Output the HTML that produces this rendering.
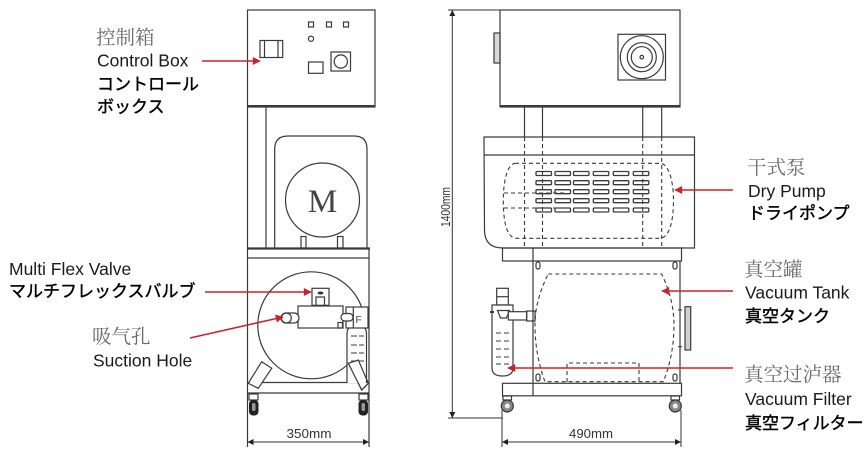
<!DOCTYPE html>
<html><head><meta charset="utf-8"><style>
html,body{margin:0;padding:0;background:#fff;}
svg{display:block;}
.en{font-family:"Liberation Sans",sans-serif;font-size:17.5px;fill:#1a1a1a;}
.jp{font-family:"Liberation Sans","Noto Sans CJK JP",sans-serif;font-size:17px;fill:#000;font-weight:normal;stroke:#000;stroke-width:0.4;}
.cn{font-family:"Liberation Serif","Noto Serif CJK SC",serif;font-size:19.5px;fill:#6a6a6a;}
.dim{font-family:"Liberation Sans",sans-serif;font-size:13px;fill:#333;}
</style></head><body>
<svg width="868" height="457" viewBox="0 0 868 457" xmlns="http://www.w3.org/2000/svg">
<defs>
<marker id="ra" viewBox="0 0 10 10" refX="9" refY="5" markerWidth="9" markerHeight="8" orient="auto" markerUnits="userSpaceOnUse"><path d="M0,0 L10,5 L0,10 z" fill="#c8242c"/></marker>
<marker id="ba" viewBox="0 0 10 10" refX="10" refY="5" markerWidth="10" markerHeight="6" orient="auto-start-reverse" markerUnits="userSpaceOnUse"><path d="M0,0 L10,5 L0,10 z" fill="#222"/></marker>
</defs>

<!-- ============ LEFT MACHINE ============ -->
<g fill="none" stroke="#3a3a3a" stroke-width="1.2">
  <rect x="247.5" y="10" width="127.5" height="96.5"/>
  <line x1="247" y1="106.3" x2="375.5" y2="106.3" stroke-width="2.6"/>
  <rect x="308.5" y="22" width="5" height="5"/>
  <rect x="326.5" y="22" width="5" height="5"/>
  <rect x="343.5" y="22" width="5" height="5"/>
  <circle cx="311" cy="38.7" r="2.6"/>
  <rect x="260" y="40.5" width="22.7" height="17"/>
  <line x1="264.5" y1="40.5" x2="264.5" y2="57.5"/>
  <line x1="278" y1="40.5" x2="278" y2="57.5"/>
  <rect x="308.5" y="62" width="14.5" height="11.3"/>
  <rect x="331" y="52" width="19.5" height="19"/>
  <circle cx="340.8" cy="61.5" r="6.6"/>

  <line x1="247.5" y1="107" x2="247.5" y2="447"/>
  <line x1="266" y1="107" x2="266" y2="248"/>
  <path d="M274.7,248 V149 Q274.7,136 288,136 H354 Q367,136 367,149 V248"/>
  <circle cx="322.5" cy="200" r="37"/>
  <rect x="301" y="236.5" width="5" height="11.5"/>
  <rect x="337.5" y="236.5" width="5.5" height="11.5"/>
  <line x1="247" y1="248.5" x2="370" y2="248.5" stroke-width="2.2"/>
  <line x1="247.5" y1="258" x2="369" y2="258"/>
  <line x1="369" y1="248" x2="369" y2="447"/>

  <line x1="247.5" y1="382.5" x2="369" y2="382.5"/>
  <line x1="247.5" y1="393" x2="369" y2="393"/>
  <circle cx="311.3" cy="325.3" r="53.5"/>
  <polygon points="261.7,361.7 271.7,368.3 258.3,388.3 248.3,383.3" fill="#fff"/>
  <polygon points="348.3,363.3 358.3,360 368.3,383.3 361.7,390" fill="#fff"/>

  <rect x="312" y="288.3" width="17" height="17" fill="#fff"/>
  <path d="M316,305.3 V297 H324.5 V305.3"/>
  <rect x="298" y="306" width="45" height="22" fill="#fff"/>
  <rect x="338" y="322.5" width="4.5" height="5.5"/>
  <rect x="281" y="313" width="18" height="10" rx="5" fill="#fff"/>
  <circle cx="286.3" cy="318" r="5"/>

  <path d="M347,383 V334 Q347,325 357,325 Q366.5,325 366.5,334 V383" fill="#fff"/>
  <rect x="346" y="307" width="22" height="21" fill="#fff"/>
  <line x1="353.3" y1="307" x2="353.3" y2="328"/>
  <rect x="341" y="313.5" width="12" height="7.5" rx="3.7" fill="#fff"/>
  <g stroke-width="1">
    <line x1="351" y1="336" x2="357" y2="336"/><line x1="359" y1="336" x2="364" y2="336"/>
    <line x1="351" y1="345" x2="357" y2="345"/><line x1="359" y1="345" x2="364" y2="345"/>
    <line x1="351" y1="353" x2="357" y2="353"/><line x1="359" y1="353" x2="364" y2="353"/>
    <line x1="351" y1="361" x2="357" y2="361"/><line x1="359" y1="361" x2="364" y2="361"/>
  </g>
  <polygon points="348.3,363.3 358.3,360 368.3,383.3 361.7,390" fill="none"/>

  <rect x="249" y="394" width="9" height="6"/>
  <rect x="359" y="394" width="9" height="6"/>
</g>
<ellipse cx="320.5" cy="293" rx="3" ry="1.5" fill="#333"/>
<text x="355.5" y="323" font-family="Liberation Sans,sans-serif" font-size="10" fill="#444">F</text>
<text x="322.5" y="212" font-family="Liberation Serif,serif" font-size="33" fill="#444" text-anchor="middle">M</text>
<rect x="249" y="400" width="9.5" height="15.5" rx="4" fill="#222"/>
<rect x="252" y="403" width="3.5" height="8" rx="1.5" fill="#999"/>
<rect x="358.5" y="400" width="9.5" height="15.5" rx="4" fill="#222"/>
<rect x="361.5" y="403" width="3.5" height="8" rx="1.5" fill="#999"/>

<line x1="247.5" y1="442" x2="369" y2="442" stroke="#333" stroke-width="1" marker-start="url(#ba)" marker-end="url(#ba)"/>
<text class="dim" x="286.5" y="438" textLength="45" lengthAdjust="spacingAndGlyphs">350mm</text>

<!-- ============ RIGHT MACHINE ============ -->
<g fill="none" stroke="#3a3a3a" stroke-width="1.2">
  <rect x="500" y="10" width="180" height="96.5"/>
  <line x1="500" y1="106.3" x2="680.5" y2="106.3" stroke-width="2.6"/>
  <rect x="494" y="33" width="6" height="30" fill="#d8d8d8"/>
  <rect x="618" y="34.3" width="47.5" height="45.7"/>
  <circle cx="641.8" cy="57.2" r="21.5"/>
  <circle cx="641.8" cy="57.2" r="14.5"/>
  <circle cx="641.8" cy="57.2" r="10.5"/>
  <circle cx="641.8" cy="57.2" r="1.8"/>

  <line x1="524.5" y1="107" x2="524.5" y2="137"/>
  <line x1="542.5" y1="107" x2="542.5" y2="137"/>
  <line x1="642.7" y1="107" x2="642.7" y2="137"/>
  <line x1="661.7" y1="107" x2="661.7" y2="137"/>

  <path d="M484,137 H694.5 V248 H503 Q484.5,248 484.5,230 Z"/>
  <line x1="484" y1="155" x2="694.5" y2="155"/>
  <g stroke-dasharray="4 3" stroke-width="1.1">
    <line x1="524.5" y1="137" x2="524.5" y2="248"/>
    <line x1="542.5" y1="137" x2="542.5" y2="248"/>
    <line x1="642.7" y1="137" x2="642.7" y2="248"/>
    <line x1="661.7" y1="137" x2="661.7" y2="248"/>
    <path d="M515,163.3 H661 C670,165 673.5,185 673.5,200 C673.5,220 670,236 661,238.3 H515 C506,236 503.3,220 503.3,200 C503.3,185 506,165 515,163.3 Z"/>
    <line x1="504" y1="193" x2="566" y2="193"/>
    <line x1="504" y1="208" x2="566" y2="208"/>
  </g>
  <g stroke-width="1.3">
    <rect x="536" y="171.5" width="15.5" height="4" rx="1"/><rect x="555" y="171.5" width="15.5" height="4" rx="1"/><rect x="573.5" y="171.5" width="15.5" height="4" rx="1"/><rect x="593.3" y="171.5" width="15.5" height="4" rx="1"/><rect x="613.3" y="171.5" width="15.5" height="4" rx="1"/><rect x="633.3" y="171.5" width="15.5" height="4" rx="1"/>
    <rect x="536" y="180.7" width="15.5" height="4" rx="1"/><rect x="555" y="180.7" width="15.5" height="4" rx="1"/><rect x="573.5" y="180.7" width="15.5" height="4" rx="1"/><rect x="593.3" y="180.7" width="15.5" height="4" rx="1"/><rect x="613.3" y="180.7" width="15.5" height="4" rx="1"/><rect x="633.3" y="180.7" width="15.5" height="4" rx="1"/>
    <rect x="536" y="189.7" width="15.5" height="4" rx="1"/><rect x="555" y="189.7" width="15.5" height="4" rx="1"/><rect x="573.5" y="189.7" width="15.5" height="4" rx="1"/><rect x="593.3" y="189.7" width="15.5" height="4" rx="1"/><rect x="613.3" y="189.7" width="15.5" height="4" rx="1"/><rect x="633.3" y="189.7" width="15.5" height="4" rx="1"/>
    <rect x="536" y="198.7" width="15.5" height="4" rx="1"/><rect x="555" y="198.7" width="15.5" height="4" rx="1"/><rect x="573.5" y="198.7" width="15.5" height="4" rx="1"/><rect x="593.3" y="198.7" width="15.5" height="4" rx="1"/><rect x="613.3" y="198.7" width="15.5" height="4" rx="1"/><rect x="633.3" y="198.7" width="15.5" height="4" rx="1"/>
    <rect x="536" y="208" width="15.5" height="4" rx="1"/><rect x="555" y="208" width="15.5" height="4" rx="1"/><rect x="573.5" y="208" width="15.5" height="4" rx="1"/><rect x="593.3" y="208" width="15.5" height="4" rx="1"/><rect x="613.3" y="208" width="15.5" height="4" rx="1"/><rect x="633.3" y="208" width="15.5" height="4" rx="1"/>
  </g>

  <rect x="502.5" y="248" width="179" height="13"/>
  <rect x="502.5" y="383.3" width="179" height="12.5"/>
  <line x1="533" y1="248" x2="533" y2="396"/>
  <line x1="680" y1="261" x2="680" y2="383.3"/>
  <rect x="536" y="262" width="4" height="7" rx="2"/>
  <rect x="673" y="262" width="4" height="7" rx="2"/>
  <rect x="536" y="374" width="4" height="7" rx="2"/>
  <rect x="673" y="374" width="4" height="7" rx="2"/>
  <g stroke-dasharray="4 3" stroke-width="1.1">
    <path d="M548.3,274 H661.7 Q674,300 674,325 Q674,355 663.3,381.7 H545 Q535,355 535,325 Q535,300 548.3,274 Z"/>
    <path d="M567,382 V363 H639 V382"/>
    <line x1="678" y1="310" x2="685" y2="310"/>
    <line x1="678" y1="346.7" x2="685" y2="346.7"/>
  </g>
  <rect x="685" y="306.7" width="5.7" height="43.3" fill="#d0d0d0"/>

  <rect x="496.7" y="288.3" width="11.6" height="16.7"/>
  <line x1="496.7" y1="296.7" x2="508.3" y2="296.7"/>
  <path d="M492,305 H513 V368 Q513,376 502.5,376 Q492,376 492,368 Z" fill="#fff"/>
  <path d="M497.5,310.5 H509.5 L506.5,318 H500.5 Z"/>
  <line x1="490" y1="312" x2="494" y2="312" stroke-width="2"/>
  <rect x="508.3" y="311.7" width="18.4" height="8.3" fill="#fff"/>
  <rect x="526.7" y="311" width="8.3" height="10"/>
  <g stroke-width="1">
    <line x1="496" y1="333" x2="501" y2="333"/><line x1="504" y1="333" x2="509" y2="333"/>
    <line x1="496" y1="341" x2="501" y2="341"/><line x1="504" y1="341" x2="509" y2="341"/>
    <line x1="496" y1="349" x2="501" y2="349"/><line x1="504" y1="349" x2="509" y2="349"/>
    <line x1="496" y1="357" x2="501" y2="357"/><line x1="504" y1="357" x2="509" y2="357"/>
    <line x1="496" y1="364" x2="501" y2="364"/><line x1="504" y1="364" x2="509" y2="364"/>
  </g>

  <rect x="503" y="396" width="8.5" height="4"/>
  <rect x="671" y="396" width="8.5" height="4"/>
</g>
<circle cx="507.3" cy="406" r="6" fill="#888" stroke="#333" stroke-width="1.2"/>
<circle cx="507.3" cy="406" r="2.5" fill="#eee"/>
<circle cx="675.3" cy="406" r="6" fill="#888" stroke="#333" stroke-width="1.2"/>
<circle cx="675.3" cy="406" r="2.5" fill="#eee"/>

<g stroke="#333" stroke-width="1" fill="none">
  <line x1="448" y1="10" x2="500" y2="10"/>
  <line x1="448" y1="418" x2="503" y2="418"/>
  <line x1="452.3" y1="10" x2="452.3" y2="418" marker-start="url(#ba)" marker-end="url(#ba)"/>
  <line x1="502" y1="410" x2="502" y2="447"/>
  <line x1="681" y1="410" x2="681" y2="447"/>
  <line x1="502" y1="442" x2="681" y2="442" marker-start="url(#ba)" marker-end="url(#ba)"/>
</g>
<text class="dim" transform="translate(450,227) rotate(-90)" x="0" y="0" textLength="40" lengthAdjust="spacingAndGlyphs">1400mm</text>
<text class="dim" x="569" y="438" textLength="44" lengthAdjust="spacingAndGlyphs">490mm</text>

<g stroke="#c8242c" stroke-width="1.6" fill="none">
  <line x1="202" y1="61" x2="260" y2="61" marker-end="url(#ra)"/>
  <line x1="205" y1="292" x2="311" y2="292" marker-end="url(#ra)"/>
  <line x1="190" y1="338" x2="283" y2="317" marker-end="url(#ra)"/>
  <line x1="733" y1="190" x2="675" y2="190" marker-end="url(#ra)"/>
  <line x1="733" y1="291" x2="662" y2="291" marker-end="url(#ra)"/>
  <line x1="733" y1="368" x2="508" y2="368" marker-end="url(#ra)"/>
</g>

<text class="cn" x="96" y="44">控制箱</text>
<text class="en" x="97" y="66.5">Control Box</text>
<text class="jp" x="97" y="90">コントロール</text>
<text class="jp" x="97" y="112.5">ボックス</text>

<text class="en" x="9" y="275">Multi Flex Valve</text>
<text class="jp" x="9" y="297">マルチフレックスバルブ</text>
<text class="cn" x="92" y="343">吸气孔</text>
<text class="en" x="93" y="366.5">Suction Hole</text>

<text class="cn" x="747" y="174">干式泵</text>
<text class="en" x="748" y="197">Dry Pump</text>
<text class="jp" x="748" y="219">ドライポンプ</text>

<text class="cn" x="744" y="276">真空罐</text>
<text class="en" x="745" y="298.5">Vacuum Tank</text>
<text class="jp" x="745" y="322">真空タンク</text>

<text class="cn" x="744" y="381">真空过泸器</text>
<text class="en" x="745" y="405">Vacuum Filter</text>
<text class="jp" x="745" y="429">真空フィルター</text>
</svg>
</body></html>
